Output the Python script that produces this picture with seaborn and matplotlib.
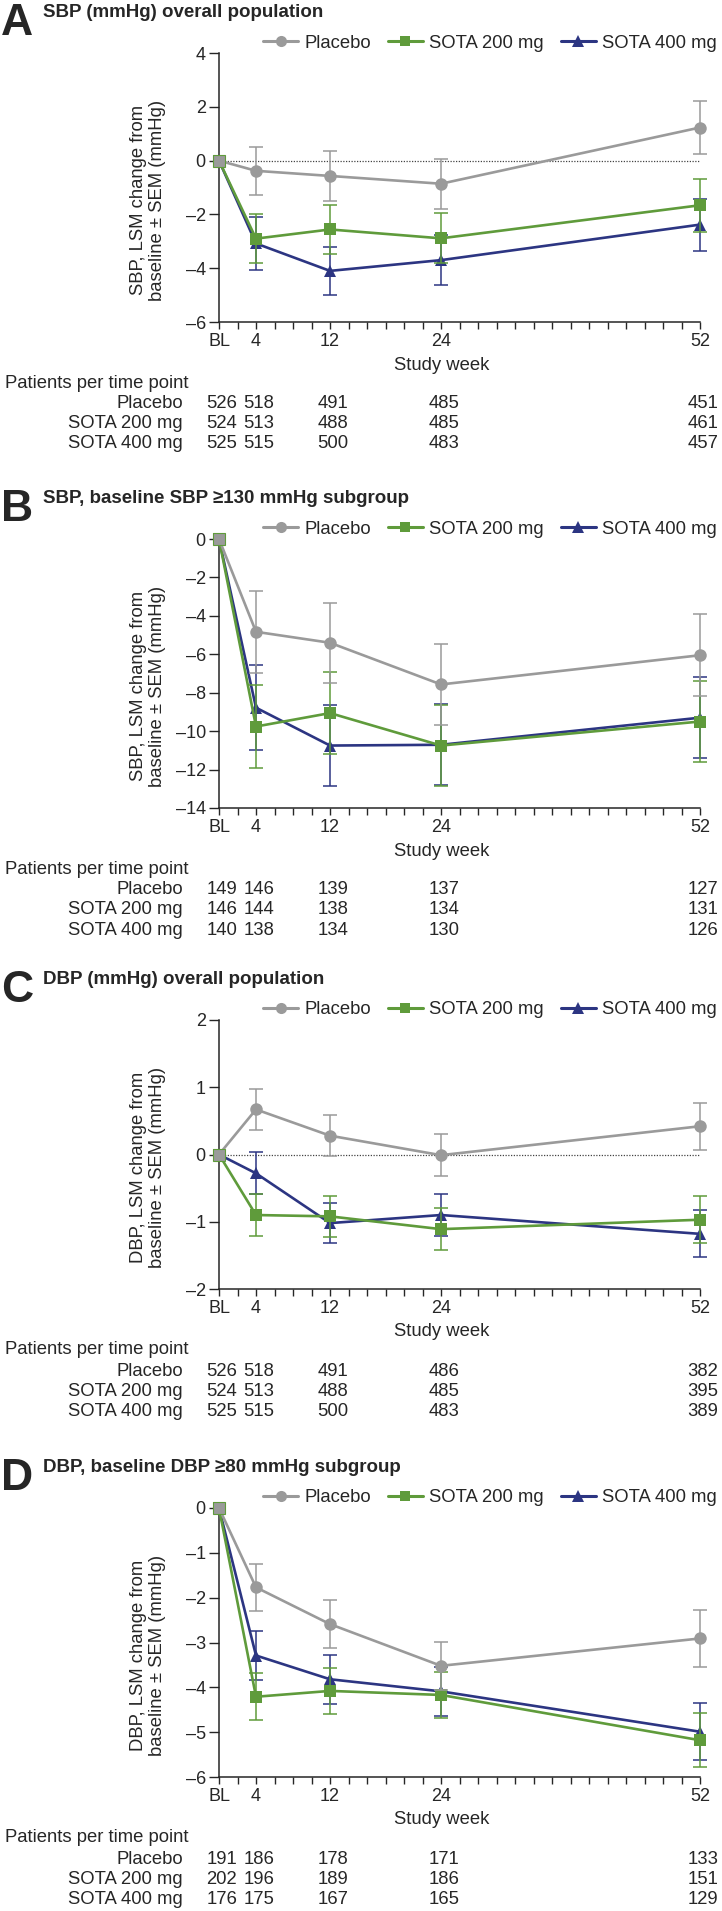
import matplotlib
matplotlib.use("Agg")
import matplotlib.pyplot as plt
import matplotlib.transforms as mtransforms
from matplotlib.lines import Line2D
import seaborn as sns

sns.set_style("ticks")
plt.rcParams['font.family'] = ['Liberation Sans', 'DejaVu Sans']

# ---- data ----
weeks = [0, 4, 12, 24, 52]
week_labels = ['BL', '4', '12', '24', '52']
groups = ['Placebo', 'SOTA 200 mg', 'SOTA 400 mg']

panel_letters = ['A', 'B', 'C', 'D']
panel_titles = ['SBP (mmHg) overall population',
                'SBP, baseline SBP \u2265130 mmHg subgroup',
                'DBP (mmHg) overall population',
                'DBP, baseline DBP \u226580 mmHg subgroup']
ylabels = ['SBP, LSM change from\nbaseline \u00b1 SEM (mmHg)',
           'SBP, LSM change from\nbaseline \u00b1 SEM (mmHg)',
           'DBP, LSM change from\nbaseline \u00b1 SEM (mmHg)',
           'DBP, LSM change from\nbaseline \u00b1 SEM (mmHg)']

# panel A: SBP overall
a_placebo = [0, -0.38, -0.57, -0.86, 1.23]
a_placebo_sem = [0, 0.89, 0.92, 0.93, 1.00]
a_s200 = [0, -2.90, -2.56, -2.89, -1.66]
a_s200_sem = [0, 0.92, 0.92, 0.93, 0.98]
a_s400 = [0, -3.08, -4.10, -3.70, -2.38]
a_s400_sem = [0, 0.98, 0.90, 0.93, 0.97]
a_n_placebo = [526, 518, 491, 485, 451]
a_n_s200 = [524, 513, 488, 485, 461]
a_n_s400 = [525, 515, 500, 483, 457]

# panel B: SBP, baseline SBP >=130
b_placebo = [0, -4.83, -5.40, -7.57, -6.05]
b_placebo_sem = [0, 2.13, 2.08, 2.10, 2.13]
b_s200 = [0, -9.76, -9.06, -10.75, -9.50]
b_s200_sem = [0, 2.15, 2.12, 2.12, 2.13]
b_s400 = [0, -8.78, -10.75, -10.71, -9.30]
b_s400_sem = [0, 2.22, 2.10, 2.10, 2.10]
b_n_placebo = [149, 146, 139, 137, 127]
b_n_s200 = [146, 144, 138, 134, 131]
b_n_s400 = [140, 138, 134, 130, 126]

# panel C: DBP overall
c_placebo = [0, 0.67, 0.28, -0.01, 0.42]
c_placebo_sem = [0, 0.31, 0.30, 0.31, 0.35]
c_s200 = [0, -0.90, -0.92, -1.11, -0.97]
c_s200_sem = [0, 0.31, 0.30, 0.31, 0.35]
c_s400 = [0, -0.28, -1.02, -0.90, -1.18]
c_s400_sem = [0, 0.31, 0.30, 0.31, 0.35]
c_n_placebo = [526, 518, 491, 486, 382]
c_n_s200 = [524, 513, 488, 485, 395]
c_n_s400 = [525, 515, 500, 483, 389]

# panel D: DBP, baseline DBP >=80
d_placebo = [0, -1.77, -2.59, -3.52, -2.91]
d_placebo_sem = [0, 0.53, 0.53, 0.53, 0.63]
d_s200 = [0, -4.21, -4.08, -4.17, -5.18]
d_s200_sem = [0, 0.52, 0.52, 0.52, 0.60]
d_s400 = [0, -3.29, -3.82, -4.09, -4.99]
d_s400_sem = [0, 0.55, 0.55, 0.55, 0.63]
d_n_placebo = [191, 186, 178, 171, 133]
d_n_s200 = [202, 196, 189, 186, 151]
d_n_s400 = [176, 175, 167, 165, 129]

y_ranges = [(-6, 4, 2), (-14, 0, 2), (-2, 2, 1), (-6, 0, 1)]

panels = [
    ([a_placebo, a_s200, a_s400], [a_placebo_sem, a_s200_sem, a_s400_sem],
     [a_n_placebo, a_n_s200, a_n_s400]),
    ([b_placebo, b_s200, b_s400], [b_placebo_sem, b_s200_sem, b_s400_sem],
     [b_n_placebo, b_n_s200, b_n_s400]),
    ([c_placebo, c_s200, c_s400], [c_placebo_sem, c_s200_sem, c_s400_sem],
     [c_n_placebo, c_n_s200, c_n_s400]),
    ([d_placebo, d_s200, d_s400], [d_placebo_sem, d_s200_sem, d_s400_sem],
     [d_n_placebo, d_n_s200, d_n_s400]),
]

# ---- styling ----
colors = ['#9a9a9a', '#5f9b3b', '#2c3582']
markers = ['o', 's', '^']
msizes = [9, 8.5, 9]
FS = 13.3

W, H = 722, 1911
def fx(px):
    return px / W
def fy(py):
    return 1 - py / H

fig = plt.figure(figsize=(W / 100, H / 100), dpi=100)
offsets = [0, 486, 967, 1455]
ax_left, ax_right = 219, 700

for p, off in enumerate(offsets):
    means, sems, counts = panels[p]
    ymin, ymax, ystep = y_ranges[p]
    ax = fig.add_axes([fx(ax_left), fy(off + 322), (ax_right - ax_left) / W, 269 / H])

    if ymin < 0 < ymax:
        ax.axhline(0, xmin=0, xmax=1, color='#444444', lw=0.9, ls=(0, (1, 1.2)), zorder=1)

    # draw SOTA 400 first so Placebo ends up on top
    for g in [2, 1, 0]:
        ax.errorbar(weeks[1:], means[g][1:], yerr=sems[g][1:], fmt='none',
                    ecolor=colors[g], elinewidth=1.1, capsize=4.7, capthick=1.1,
                    zorder=2 + 2 * (2 - g), clip_on=False)
        sns.lineplot(x=weeks, y=means[g], color=colors[g], marker=markers[g],
                     markersize=msizes[g], markeredgewidth=0, linewidth=1.9,
                     errorbar=None, legend=False, ax=ax,
                     zorder=3 + 2 * (2 - g), clip_on=False)
    # shared baseline point shown as a grey square
    ax.plot(weeks[0], means[0][0], marker='s', ms=8.5, mew=0.8, mfc=colors[0],
            mec=colors[1], zorder=10, clip_on=False)

    ax.set_xlim(0, 52)
    ax.set_ylim(ymin, ymax)
    ax.set_xticks(range(0, 53, 2))
    ax.set_xticklabels([week_labels[weeks.index(w)] if w in weeks else '' for w in range(0, 53, 2)])
    yt = list(range(ymin, ymax + 1, ystep))
    ax.set_yticks(yt)
    ax.set_yticklabels([str(v).replace('-', '\u2013') for v in yt])
    ax.tick_params(axis='x', length=5, width=1, pad=3, labelsize=FS - 0.3)
    ax.tick_params(axis='y', length=7, width=1, pad=2.5, labelsize=FS - 0.3)
    ax.set_xlabel('')
    ax.set_ylabel('')
    sns.despine(ax=ax)
    for s in ['left', 'bottom']:
        ax.spines[s].set_linewidth(1.1)

    # panel letter and title
    fig.text(fx(1), fy(off + 35), panel_letters[p], fontsize=32, fontweight='bold',
             ha='left', va='baseline')
    fig.text(fx(43), fy(off + 17), panel_titles[p], fontsize=13.5, fontweight='bold',
             ha='left', va='baseline')

    # legend
    handles = [Line2D([], [], color=colors[g], marker=markers[g], markersize=msizes[g] - 1,
                      markeredgewidth=0, lw=2.2) for g in range(3)]
    fig.legend(handles, groups, loc='center right', bbox_to_anchor=(fx(717), fy(off + 43)),
               ncol=3, frameon=False, fontsize=FS, handlelength=1.9, handletextpad=0.35,
               columnspacing=0.9, borderaxespad=0, borderpad=0)

    # axis labels
    fig.text(fx(148), fy(off + 200), ylabels[p], rotation=90, ha='center', va='center',
             multialignment='center', fontsize=FS, linespacing=1.15)
    fig.text(fx(442), fy(off + 365), 'Study week', ha='center', va='center', fontsize=FS)

    # patients table
    fig.text(fx(5), fy(off + 383), 'Patients per time point', ha='left', va='center', fontsize=FS)
    trans = mtransforms.blended_transform_factory(ax.transData, fig.transFigure)
    row_y = [404, 424, 444]
    for g in range(3):
        fig.text(fx(183), fy(off + row_y[g]), groups[g], ha='right', va='center', fontsize=FS)
        for w, n in zip(weeks, counts[g]):
            ax.text(w + 0.3, fy(off + row_y[g]), str(n), transform=trans, ha='center',
                    va='center', fontsize=FS, clip_on=False)

fig.savefig('out.png', dpi=100)
